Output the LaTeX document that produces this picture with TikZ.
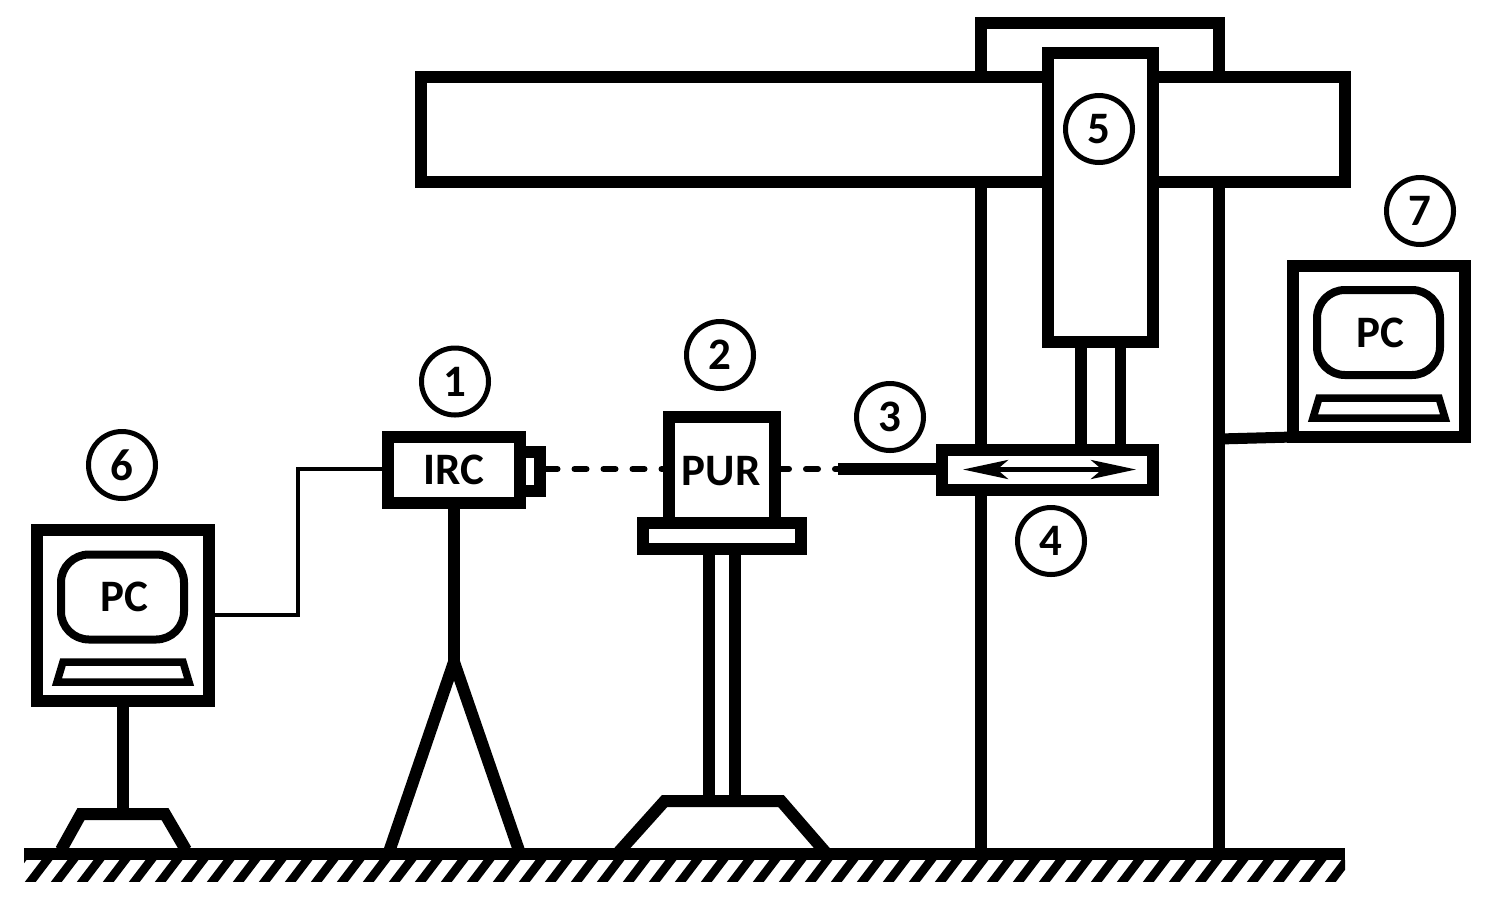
\documentclass[tikz,border=0pt]{standalone}
\usepackage{fontspec}
\setmainfont{Carlito}
\usetikzlibrary{arrows.meta}
\newcommand{\lowered}[1]{\raisebox{-1.5pt}{#1}}
\tikzset{
  box/.style={draw=black,fill=white,line width=12pt,rectangle,inner sep=0pt,outer sep=0pt,font=\bfseries\fontsize{45}{45}\selectfont,miter limit=10},
  beam/.style={line width=12pt,draw=black,line join=miter},
  thin wire/.style={line width=4.5pt,draw=black,line join=miter},
  beamdash/.style={line width=6pt,line cap=round,draw=black},
  tag/.style={circle,draw=black,fill=white,line width=5pt,minimum size=67pt,inner sep=0pt,outer sep=0pt,font=\bfseries\fontsize{45}{45}\selectfont},
  screen/.style={draw=black,fill=white,line width=8pt,rectangle,rounded corners=28pt,inner sep=0pt,outer sep=0pt,font=\bfseries\fontsize{45}{45}\selectfont},
  keys/.style={draw=black,line width=7.5pt,line join=miter},
}
\begin{document}
\begin{tikzpicture}[x=1pt,y=-1pt]
\useasboundingbox (0,0) rectangle (1490,914);
% ground hatch
\begin{scope}
\clip (24,860) rectangle (1345,881);
\foreach \x in {5,31,...,1345}
  \draw[line width=8.7pt] ({\x+24},849.5) -- ({\x-8},891.5);
\end{scope}
\node[fill=black,inner sep=0pt,outer sep=0pt,minimum width=1321pt,minimum height=12pt] (ground) at (684.5,854) {};
% tower
\coordinate (tl) at (981,854);
\coordinate (tr) at (1219,854);
\coordinate (tlt) at (981,23);
\coordinate (trt) at (1219,23);
\draw[beam] (tl) -- (tlt) -- (trt) -- (tr);
\node[box,minimum width=924pt,minimum height=105pt] (crossbeam) at (883,129.5) {};
\node[box,minimum width=105pt,minimum height=289pt] (head) at (1100.5,197.5) {};
% rods below head
\coordinate (rodL) at (1081,342);
\coordinate (rodR) at (1120.5,342);
\coordinate (rodLb) at (1081,450);
\coordinate (rodRb) at (1120.5,450);
\draw[line width=11.5pt] (rodL) -- (rodLb);
\draw[line width=11.5pt] (rodR) -- (rodRb);
% carriage
\node[box,minimum width=211pt,minimum height=40pt] (carriage) at (1047.5,470) {};
\coordinate (arrL) at (963,469.5);
\coordinate (arrR) at (1136,469.5);
\draw[line width=5pt,{Stealth[length=45pt,width=19pt,inset=11pt]}-{Stealth[length=45pt,width=19pt,inset=11pt]}] (arrL) -- (arrR);
% PUR stand
\coordinate (colLt) at (709,549);
\coordinate (colLb) at (709,801);
\coordinate (colRt) at (735,549);
\coordinate (colRb) at (735,801);
\draw[line width=12pt] (colLt) -- (colLb);
\draw[line width=12pt] (colRt) -- (colRb);
\coordinate (pbL) at (617,854);
\coordinate (pbTL) at (664.6,801);
\coordinate (pbTR) at (781,801);
\coordinate (pbR) at (827,854);
\draw[beam] (pbL) -- (pbTL) -- (pbTR) -- (pbR);
% IRC and PUR
\node[box,minimum width=106pt,minimum height=106pt] (pur) at (722,470) {};
\node[box,minimum width=158pt,minimum height=26pt] (table) at (722,536) {};
\node[font=\bfseries\fontsize{45}{45}\selectfont,inner sep=0pt] (purt) at (721,471.5) {PUR};
\node[box,minimum width=20pt,minimum height=39pt] (lens) at (530,471.5) {};
\node[box,minimum width=132pt,minimum height=66pt] (irc) at (454,470) {\lowered{IRC}};
% tripod
\coordinate (apex) at (454,662);
\coordinate (legL) at (389,852);
\coordinate (legR) at (519.5,852);
\draw[line width=12pt] (irc.south) -- (apex);
\draw[beam] (legL) -- (apex) -- (legR);
% dashed beam
\coordinate (p3) at (838,469);
\draw[beamdash,dash pattern=on 12pt off 17pt,dash phase=23.5pt] (lens.east |- p3) -- (pur.west |- p3);
\draw[beamdash,dash pattern=on 12pt off 17pt,dash phase=27pt] (pur.east |- p3) -- (p3);
\draw[line width=12pt] (p3) -- (carriage.west |- p3);
% PC 6
\node[box,minimum width=172pt,minimum height=171pt] (pc6) at (123,615.5) {};
\node[screen,minimum width=123pt,minimum height=85pt] (scr6) at (122.5,597) {\hspace{3pt}\lowered{PC}};
\draw[keys] (63,662) -- (183,662) -- (189,682) -- (57,682) -- cycle;
\coordinate (st6) at (123,814);
\draw[line width=12pt] (pc6.south) -- (st6);
\coordinate (b6L) at (61,850);
\coordinate (b6TL) at (81,814);
\coordinate (b6TR) at (165,814);
\coordinate (b6R) at (186,850);
\draw[beam] (b6L) -- (b6TL) -- (b6TR) -- (b6R);
\coordinate (w1) at (298,615);
\coordinate (w2) at (298,469);
\draw[thin wire] (pc6.east |- w1) -- (w1) -- (w2) -- (irc.west |- w2);
% PC 7
\coordinate (w7) at (1219,439);
\draw[line width=11pt] (w7) -- (1293,437);
\node[box,minimum width=172pt,minimum height=171pt] (pc7) at (1379,351.5) {};
\node[screen,minimum width=123pt,minimum height=85pt] (scr7) at (1378.5,332.5) {\hspace{3pt}PC};
\draw[keys] (1319,398) -- (1439,398) -- (1445,418) -- (1313,418) -- cycle;
% tags
\node[tag] (t1) at (455,381.5) {\lowered{1}};
\node[tag] (t2) at (720,355) {\lowered{2}};
\node[tag] (t3) at (890,417) {\lowered{3}};
\node[tag] (t4) at (1051,541) {\lowered{4}};
\node[tag] (t5) at (1099,129) {\lowered{5}};
\node[tag] (t6) at (122,465) {\lowered{6}};
\node[tag] (t7) at (1420,211) {\lowered{7}};
\end{tikzpicture}
\end{document}
